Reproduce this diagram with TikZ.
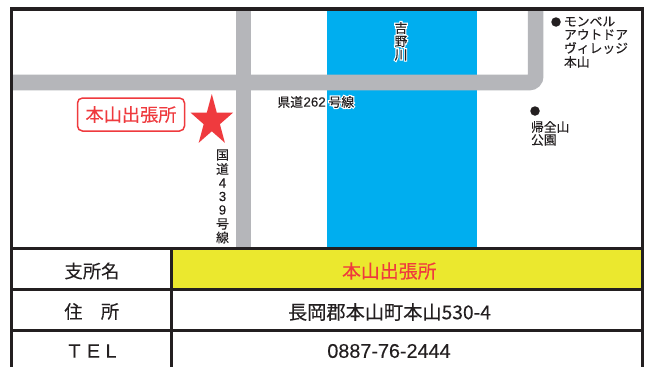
\documentclass[tikz,border=0pt]{standalone}
\usepackage{fontspec}
\setmainfont{Liberation Sans}
\newfontfamily\jpplain{Noto Sans CJK JP}
\newfontfamily\jp[FakeBold=0.12]{Noto Sans CJK JP}
\newfontfamily\latinb[FakeBold=0.12]{Liberation Sans}
\definecolor{roadgray}{HTML}{B5B6BA}
\definecolor{riverblue}{HTML}{00AEEF}
\definecolor{markred}{HTML}{EF3A3E}
\definecolor{cellyellow}{HTML}{EBE82E}
\definecolor{framek}{HTML}{231F20}
\newcommand{\halotext}[1]{\special{pdf:code 1 Tr 1 1 1 RG 2.4 w}#1\special{pdf:code 0 Tr}}
\tikzset{
  x=1pt,y=-1pt,
  every node/.style={inner sep=0pt,outer sep=0pt,text=framek},
  maptext/.style={font=\jp\fontsize{12.8}{13}\selectfont},
  mapplain/.style={font=\jpplain\fontsize{12.8}{13}\selectfont},
  mapdigit/.style={font=\latinb\fontsize{13.3}{13}\selectfont},
  rulethick/.style={draw=framek,line width=3.6pt},
  rulethin/.style={draw=framek,line width=2.2pt},
  road/.style={draw=roadgray,line width=15.6pt},
  dotmark/.style={fill=framek,circle,minimum size=9.5pt},
}
\begin{document}
\begin{tikzpicture}
\useasboundingbox (0,0) rectangle (646,367);
\fill[white] (0,0) rectangle (646,367);
% river
\fill[riverblue] (327,10) rectangle (477,248);
% cell
\fill[cellyellow] (172,250) rectangle (641,288.5);
% roads
\draw[road] (243.6,10) -- (243.6,248);
\draw[road,rounded corners=6pt] (12,82.5) -- (535.6,82.5) -- (535.6,10);
% frame
\draw[rulethick] (11.5,367) -- (11.5,9) -- (642.5,9) -- (642.5,367);
\draw[rulethick] (10,248.5) -- (644,248.5);
\draw[rulethin] (11.5,289.5) -- (642.5,289.5);
\draw[rulethin] (11.5,330.5) -- (642.5,330.5);
\draw[rulethin] (171.5,248.5) -- (171.5,367);
% halo outlines under the river and road names
\node[mapplain] (haloA) at (401,28) {\halotext{吉}};
\node[mapplain] (haloB) at (401,41.5) {\halotext{野}};
\node[mapplain] (haloC) at (401,55) {\halotext{川}};
\node[mapplain,anchor=west] (haloD) at (328.5,102) {\halotext{号線}};
% marker
\fill[markred] (211.8,94) -- (216.8,112.7) -- (233,112.7) -- (219.9,124.2) -- (224.9,142.8) -- (211.8,131.3) -- (198.7,142.8) -- (203.7,124.2) -- (190.6,112.7) -- (206.8,112.7) -- cycle;
\node[draw=markred,line width=1.5pt,rounded corners=5pt,minimum width=107pt,minimum height=33pt,font=\jp\fontsize{18.2}{18}\selectfont] (label) at (131,114.5) {\textcolor{markred}{本山出張所}};
% river name
\node[maptext] (rivA) at (401,28) {吉};
\node[maptext] (rivB) at (401,41.5) {野};
\node[maptext] (rivC) at (401,55) {川};
% prefectural road
\node[maptext,anchor=west] (prefA) at (277.5,102) {県道};
\node[mapdigit,anchor=west] (prefB) at (303.5,102) {262};
\node[maptext,anchor=west] (prefC) at (328.5,102) {号線};
% national road
\node[maptext] (natA) at (222.5,155) {国};
\node[maptext] (natB) at (222.5,169) {道};
\node[mapdigit] (natC) at (222.5,183) {4};
\node[mapdigit] (natD) at (222.5,196.5) {3};
\node[mapdigit] (natE) at (222.5,210) {9};
\node[maptext] (natF) at (222.5,224) {号};
\node[maptext] (natG) at (222.5,237.5) {線};
% landmarks
\node[dotmark] (dotA) at (556,22) {};
\node[maptext,anchor=west] (lmA) at (564,21.5) {モンベル};
\node[maptext,anchor=west] (lmB) at (564,34.5) {アウトドア};
\node[maptext,anchor=west] (lmC) at (564,48) {ヴィレッジ};
\node[maptext,anchor=west] (lmD) at (564,62) {本山};
\node[dotmark] (dotB) at (535,111) {};
\node[maptext,anchor=west] (parkA) at (531,127) {帰全山};
\node[maptext,anchor=west] (parkB) at (531,140) {公園};
% table
\node[font=\jp\fontsize{18.3}{18}\selectfont] (hA) at (92,271) {支所名};
\node[font=\jp\fontsize{18.3}{18}\selectfont] (hB1) at (73.5,311.5) {住};
\node[font=\jp\fontsize{18.3}{18}\selectfont] (hB2) at (110,311.5) {所};
\node[font=\latinb\fontsize{19.5}{18}\selectfont] (hC1) at (74.5,351) {T};
\node[font=\latinb\fontsize{19.5}{18}\selectfont] (hC2) at (93.5,351) {E};
\node[font=\latinb\fontsize{19.5}{18}\selectfont] (hC3) at (111,351) {L};
\node[font=\jp\fontsize{18.9}{18}\selectfont] (vA) at (389.3,271) {\textcolor{markred}{本山出張所}};
\node[font=\jp\fontsize{19.2}{18}\selectfont] (vB) at (389.5,312) {長岡郡本山町本山530-4};
\node[font=\latinb\fontsize{19.8}{18}\selectfont] (vC) at (389,351) {0887-76-2444};
\end{tikzpicture}
\end{document}
